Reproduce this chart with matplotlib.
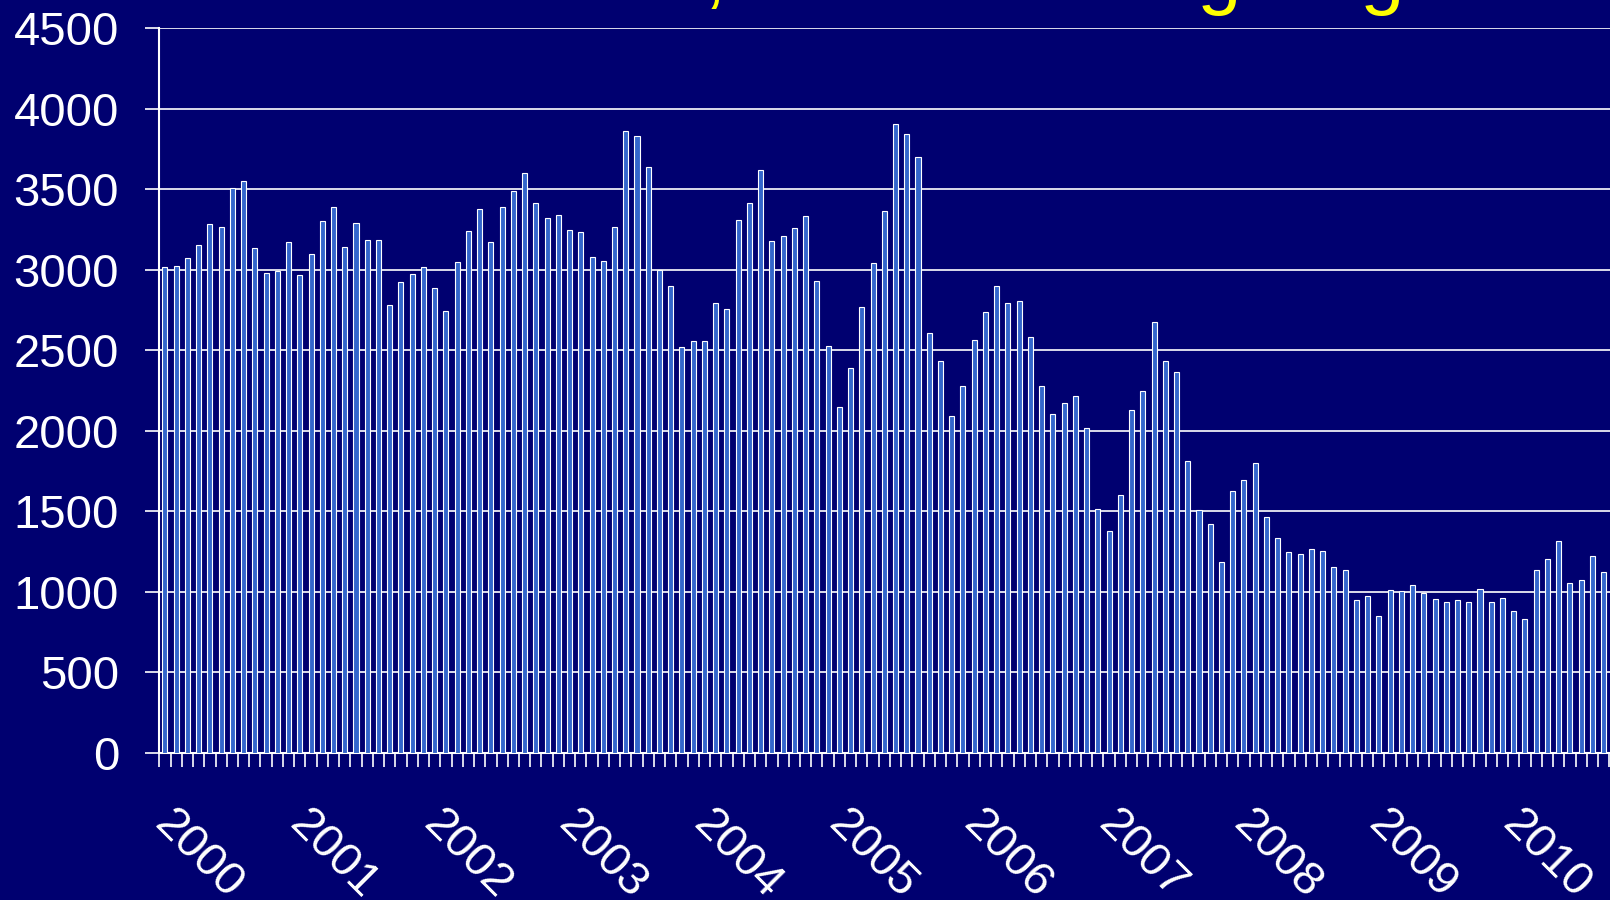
import matplotlib
matplotlib.use("Agg")
import matplotlib.pyplot as plt
import matplotlib.transforms as mtransforms
import numpy as np

# monthly values, Jan 2000 onwards (last bars run off the right edge)
values = [
    3015, 3024, 3073, 3152, 3282, 3266, 3506, 3552, 3133, 2978, 2992, 3169,
    2968, 3100, 3305, 3392, 3139, 3289, 3185, 3183, 2783, 2924, 2974, 3015,
    2885, 2741, 3050, 3237, 3378, 3169, 3388, 3488, 3602, 3416, 3318, 3341,
    3248, 3232, 3081, 3054, 3265, 3859, 3828, 3640, 2996, 2896, 2518, 2559,
    2555, 2795, 2756, 3306, 3414, 3617, 3180, 3207, 3257, 3335, 2928, 2524,
    2149, 2387, 2768, 3043, 3366, 3907, 3839, 3698, 2609, 2433, 2091, 2280,
    2564, 2739, 2898, 2795, 2807, 2579, 2278, 2102, 2172, 2214, 2019, 1514,
    1375, 1600, 2129, 2249, 2674, 2436, 2365, 1815, 1508, 1421, 1183, 1627,
    1695, 1799, 1467, 1333, 1249, 1236, 1264, 1254, 1154, 1136, 951, 976,
    852, 1011, 1007, 1040, 991, 958, 937, 951, 935, 1016, 939, 960,
    881, 829, 1134, 1206, 1314, 1053, 1073, 1220, 1125,
]
years = ["2000", "2001", "2002", "2003", "2004", "2005",
         "2006", "2007", "2008", "2009", "2010"]
y_ticks = [0, 500, 1000, 1500, 2000, 2500, 3000, 3500, 4000, 4500]
title = "Totals fell, trend is now giving out"

bg = "#000070"
bar_color = "#3366cc"
plt.rcParams["font.family"] = ["Liberation Sans", "DejaVu Sans"]

fig = plt.figure(figsize=(16.1, 9), dpi=100, facecolor=bg)
n_slots = 132
slot_px = 11.24
ax = fig.add_axes([159.3 / 1610, 147 / 900, n_slots * slot_px / 1610, 725 / 900])
ax.set_facecolor(bg)

x = np.arange(len(values)) + 0.5
ax.bar(x, values, width=0.45, color=bar_color, edgecolor="white", linewidth=0.8, zorder=3)

ax.set_xlim(0, n_slots)
ax.set_ylim(0, 4500)
ax.set_yticks(y_ticks)
ax.set_yticklabels([str(v) for v in y_ticks])
ax.yaxis.grid(True, color="white", linewidth=1.2, zorder=1)
ax.set_axisbelow(True)
ax.tick_params(axis="y", colors="white", labelsize=34, length=10, width=1.2, pad=19)

ax.set_xticks(np.arange(0, n_slots + 1))
ax.set_xticklabels([])
ax.tick_params(axis="x", colors="white", length=10, width=1.2)

for side in ["top", "right"]:
    ax.spines[side].set_visible(False)
for side in ["left", "bottom"]:
    ax.spines[side].set_color("white")
    ax.spines[side].set_linewidth(1.5)

# rotated year labels, starting at each January tick
offset = mtransforms.ScaledTranslation(0.17, -0.49, fig.dpi_scale_trans)
for k, yr in enumerate(years):
    ax.text(12 * k, 0, yr, transform=ax.get_xaxis_transform() + offset,
            rotation=-45, rotation_mode="anchor", ha="left", va="top",
            fontsize=34, color="white", clip_on=False)

# title sits mostly above the visible area
fig.text(374 / 1610, 1 + 1 / 900, title, color="#ffff00", fontsize=57,
         ha="left", va="baseline")

fig.savefig("out.png", dpi=100, facecolor=bg)
